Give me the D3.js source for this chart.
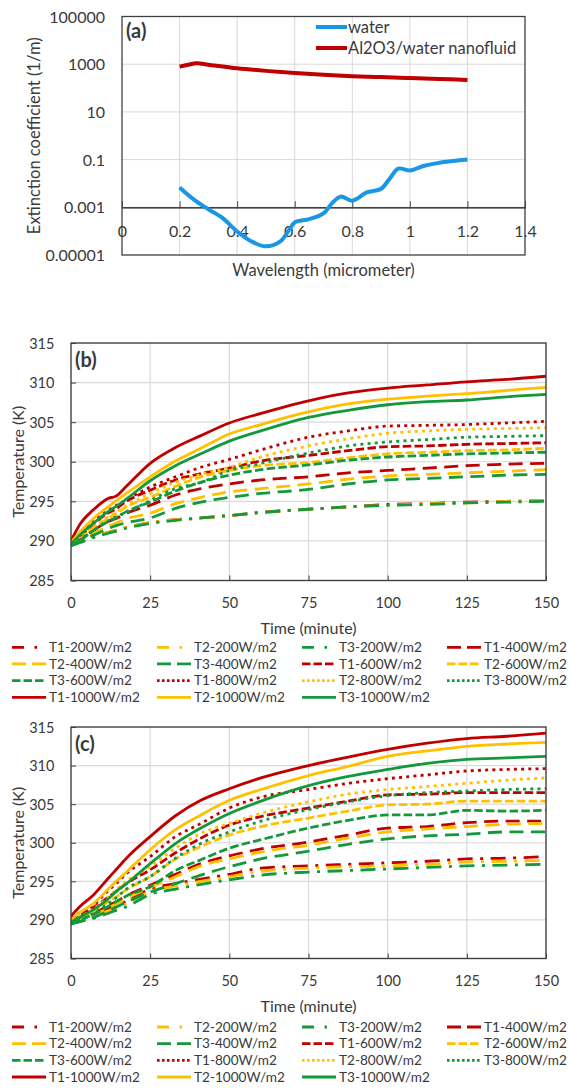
<!DOCTYPE html>
<html><head><meta charset="utf-8">
<script src="https://cdn.jsdelivr.net/npm/d3@7"></script>
<style>
body{margin:0;background:#fff}
svg{display:block}
text{font-family:Lato,"Open Sans",sans-serif;fill:#3a3a3a}
</style>
</head><body>
<svg id="chart" width="569" height="1090"></svg>
<script>
// ---------- Panel (a) data ----------
const wlTicks = [0, 0.2, 0.4, 0.6, 0.8, 1.0, 1.2, 1.4];
const wlTickLabels = ["0", "0.2", "0.4", "0.6", "0.8", "1", "1.2", "1.4"];
const extTicks = [1e-5, 1e-3, 1e-1, 1e1, 1e3, 1e5];
const extTickLabels = ["0.00001", "0.001", "0.1", "10", "1000", "100000"];
const waterWl = [0.2,0.25,0.3,0.35,0.4,0.45,0.5,0.55,0.58,0.6,0.65,0.7,0.73,0.76,0.8,0.85,0.9,0.93,0.96,1.0,1.05,1.1,1.15,1.2];
const waterExt = [6.8e-3,2.1e-3,8.3e-4,3.5e-4,9.7e-5,3.7e-5,2.3e-5,3.7e-5,1.1e-4,2.3e-4,3.2e-4,5.6e-4,1.5e-3,2.8e-3,1.9e-3,4.2e-3,6.0e-3,0.016,0.042,0.035,0.055,0.073,0.087,0.10];
const nanoWl = [0.2,0.23,0.26,0.3,0.4,0.5,0.6,0.7,0.8,0.9,1.0,1.1,1.2];
const nanoExt = [794,955,1096,955,676,525,427,363,316,288,263,240,219];
const seriesA = ["water", "Al2O3/water nanofluid"];

// ---------- Panels (b),(c) data ----------
const timeTicks = [0, 25, 50, 75, 100, 125, 150];
const tempTicks = [285, 290, 295, 300, 305, 310, 315];
const times = [0,3,7,12,14,17.5,25,33,41,50,60,75,87.5,100,112.5,125,137.5,150];
const seriesNames = ["T1-200W/m2","T2-200W/m2","T3-200W/m2","T1-400W/m2","T2-400W/m2","T3-400W/m2",
  "T1-600W/m2","T2-600W/m2","T3-600W/m2","T1-800W/m2","T2-800W/m2","T3-800W/m2",
  "T1-1000W/m2","T2-1000W/m2","T3-1000W/m2"];

const bT1_200 = [289.5,289.9,290.5,291.1,291.3,291.7,292.3,292.7,292.9,293.2,293.6,294.0,294.3,294.6,294.7,294.9,295.0,295.1];
const bT2_200 = [289.5,289.9,290.5,291.1,291.3,291.7,292.3,292.7,292.9,293.2,293.6,294.0,294.3,294.5,294.7,294.8,295.0,295.1];
const bT3_200 = [289.4,289.8,290.4,291.0,291.2,291.6,292.2,292.6,292.9,293.2,293.6,294.0,294.3,294.5,294.6,294.8,294.9,295.0];
const bT1_400 = [289.5,290.2,291.3,292.5,292.8,293.5,294.5,295.8,296.6,297.2,297.7,298.1,298.6,298.9,299.2,299.5,299.7,299.8];
const bT2_400 = [289.5,290.0,290.9,291.9,292.2,292.8,293.5,294.7,295.5,296.2,296.6,297.2,297.8,298.2,298.4,298.6,298.8,299.0];
const bT3_400 = [289.4,289.9,290.7,291.6,291.9,292.3,292.9,294.1,294.9,295.5,296.0,296.5,297.2,297.7,297.9,298.1,298.3,298.4];
const bT1_600 = [289.6,290.6,292.1,293.6,294.0,295.0,296.4,297.7,298.5,299.2,300.1,300.8,301.4,301.9,302.0,302.2,302.3,302.4];
const bT2_600 = [289.5,290.3,291.6,292.9,293.4,294.3,295.5,296.9,298.1,298.9,299.5,299.9,300.5,301.0,301.2,301.4,301.5,301.7];
const bT3_600 = [289.4,290.1,291.3,292.5,292.9,293.7,294.9,296.3,297.4,298.3,299.0,299.6,300.2,300.6,300.8,301.0,301.1,301.2];
const bT1_800 = [289.8,291.0,292.5,293.9,294.4,295.2,296.8,298.1,299.3,300.3,301.5,303.1,303.9,304.5,304.6,304.7,304.9,305.1];
const bT2_800 = [289.6,290.6,291.8,293.1,293.6,294.4,296.0,297.4,298.4,299.3,300.6,302.0,302.9,303.6,303.9,304.1,304.2,304.3];
const bT3_800 = [289.5,290.3,291.3,292.6,293.0,293.6,295.1,296.6,297.4,298.9,299.8,301.1,302.0,302.5,302.8,303.1,303.2,303.3];
const bT1_1000 = [290.0,292.2,293.9,295.4,295.6,296.9,299.8,301.8,303.3,304.9,306.1,307.7,308.7,309.3,309.7,310.1,310.4,310.8];
const bT2_1000 = [289.8,291.2,292.8,294.4,295.0,296.0,298.1,300.1,301.7,303.5,304.7,306.3,307.3,307.9,308.3,308.6,309.0,309.4];
const bT3_1000 = [289.6,290.8,292.2,293.8,294.3,295.3,297.6,299.5,301.0,302.6,303.9,305.6,306.5,307.2,307.6,307.8,308.2,308.5];

const cT1_200 = [289.6,290.0,290.6,291.5,291.8,292.4,294.0,294.7,295.3,295.9,296.7,297.0,297.2,297.4,297.6,297.9,298.0,298.2];
const cT2_200 = [289.6,289.9,290.4,291.2,291.5,292.1,293.7,294.4,295.0,295.6,296.3,296.7,296.9,297.0,297.2,297.5,297.6,297.7];
const cT3_200 = [289.5,289.8,290.2,290.9,291.2,291.7,293.3,294.0,294.6,295.2,295.8,296.2,296.4,296.6,296.8,297.0,297.1,297.2];
const cT1_400 = [289.6,290.1,290.8,291.9,292.3,293.1,294.5,295.9,297.3,298.3,299.2,300.1,301.0,301.9,302.1,302.6,302.8,302.8];
const cT2_400 = [289.6,290.0,290.6,291.6,292.0,292.8,294.2,295.6,297.0,297.9,298.8,299.7,300.6,301.4,301.8,302.1,302.4,302.5];
const cT3_400 = [289.5,289.8,290.3,291.2,291.6,292.3,293.6,294.7,295.8,296.9,297.9,298.9,299.8,300.5,300.9,301.1,301.4,301.4];
const cT1_600 = [289.9,290.6,291.6,293.0,293.6,294.7,296.5,298.7,300.6,302.3,303.4,304.5,305.4,306.2,306.3,306.5,306.5,306.5];
const cT2_600 = [289.7,290.2,291.1,292.4,292.9,293.9,295.6,297.9,299.5,301.0,302.1,303.2,304.1,304.9,305.0,305.4,305.4,305.4];
const cT3_600 = [289.5,290.0,290.7,291.8,292.3,293.1,294.3,296.4,297.8,299.3,300.4,301.9,302.9,303.6,303.6,304.2,304.1,304.2];
const cT1_800 = [290.2,291.0,291.9,293.9,294.6,296.0,298.2,300.8,302.5,304.5,305.9,306.9,307.7,308.3,308.8,309.3,309.5,309.6];
const cT2_800 = [289.8,290.4,291.4,293.0,293.8,295.0,296.9,299.3,301.2,302.5,303.8,305.3,306.3,306.9,307.3,307.7,308.1,308.4];
const cT3_800 = [289.5,290.0,290.8,292.2,292.8,294.0,295.6,298.0,299.9,301.4,302.8,304.3,305.3,306.1,306.5,306.7,306.9,307.0];
const cT1_1000 = [290.5,291.8,293.2,295.5,296.4,298.0,300.8,303.5,305.5,307.0,308.4,310.0,311.1,312.1,312.9,313.5,313.8,314.2];
const cT2_1000 = [290.0,291.0,292.1,294.1,294.9,296.2,299.1,301.7,303.6,305.5,306.9,308.7,309.9,311.2,311.9,312.5,312.8,313.0];
const cT3_1000 = [289.7,290.4,291.3,292.8,293.6,294.7,297.3,299.9,301.9,303.8,305.4,307.4,308.6,309.5,310.3,310.8,311.0,311.2];

const panelBValues = [bT1_200,bT2_200,bT3_200,bT1_400,bT2_400,bT3_400,bT1_600,bT2_600,bT3_600,bT1_800,bT2_800,bT3_800,bT1_1000,bT2_1000,bT3_1000];
const panelCValues = [cT1_200,cT2_200,cT3_200,cT1_400,cT2_400,cT3_400,cT1_600,cT2_600,cT3_600,cT1_800,cT2_800,cT3_800,cT1_1000,cT2_1000,cT3_1000];

// ---------- styles ----------
const sensorColor = {T1: "#c00000", T2: "#ffc000", T3: "#13993b"};
const fluxDash = {"200": "15,7.5,3,7.5", "400": "14,7.5", "600": "8.5,3.3", "800": "3,4.2", "1000": null};
const legendDash = {"200": "12,10.5,2.5,20", "400": "14,6", "600": "8.5,3", "800": "2.6,2.4", "1000": null};
const waterColor = "#1a96e6", nanoColor = "#c00000";
const gridColor = "#d9d9d9", frameColor = "#404040";

const svg = d3.select("#chart");

// ================= Panel (a) =================
{
  const L = 122, R = 525, T = 16.5, B = 255;
  const x = d3.scaleLinear().domain([0, 1.4]).range([L, R]);
  const y = d3.scaleLog().domain([1e-5, 1e5]).range([B, T]);
  const g = svg.append("g");
  g.selectAll(".vg").data(wlTicks.slice(1, -1)).join("line")
    .attr("x1", d => x(d)).attr("x2", d => x(d)).attr("y1", T).attr("y2", B)
    .attr("stroke", gridColor).attr("stroke-width", 1);
  g.selectAll(".hg").data(extTicks.slice(1, -1)).join("line")
    .attr("x1", L).attr("x2", R).attr("y1", d => y(d)).attr("y2", d => y(d))
    .attr("stroke", gridColor).attr("stroke-width", 1);
  g.append("rect").attr("x", L).attr("y", T).attr("width", R - L).attr("height", B - T)
    .attr("fill", "none").attr("stroke", frameColor).attr("stroke-width", 1.3);
  const xa = g.append("g").attr("transform", `translate(0,${y(1e-3)})`)
    .call(d3.axisBottom(x).tickValues(wlTicks).tickFormat((d, i) => wlTickLabels[i]).tickSizeInner(-6).tickSizeOuter(0));
  xa.select(".domain").attr("stroke", "#111").attr("stroke-width", 1.2);
  xa.selectAll(".tick line").attr("stroke", "#444");
  xa.selectAll("text").attr("y", 24).attr("dy", "0.35em").style("font-size", "16px").attr("fill", "#3a3a3a");
  const ya = g.append("g").attr("transform", `translate(${L},0)`)
    .call(d3.axisLeft(y).tickValues(extTicks).tickFormat((d, i) => extTickLabels[i]).tickSize(0).tickPadding(17));
  ya.select(".domain").remove();
  ya.selectAll("text").style("font-size", "16px").attr("dy", "0.35em").attr("fill", "#3a3a3a");
  const lineA = (xs, ys) => d3.line().x((d, i) => x(xs[i])).y((d, i) => y(ys[i])).curve(d3.curveCatmullRom.alpha(0.5))(xs);
  g.append("path").attr("d", lineA(nanoWl, nanoExt)).attr("fill", "none").attr("stroke", nanoColor).attr("stroke-width", 4);
  g.append("path").attr("d", lineA(waterWl, waterExt)).attr("fill", "none").attr("stroke", waterColor).attr("stroke-width", 4);
  g.append("text").attr("x", (L + R) / 2).attr("y", 270.7).attr("dy", "0.35em").attr("text-anchor", "middle")
    .style("font-size", "16.5px").text("Wavelength (micrometer)");
  g.append("text").attr("transform", `translate(34,${(T + B) / 2}) rotate(-90)`).attr("dy", "0.35em")
    .attr("text-anchor", "middle").style("font-size", "16.5px").text("Extinction coefficient (1/m)");
  g.append("text").attr("x", 126).attr("y", 31).attr("dy", "0.35em").style("font-size", "20px")
    .style("font-weight", "bold").attr("fill", "#111").text("(a)");
  const leg = [[waterColor, 27], [nanoColor, 48]];
  seriesA.forEach((name, i) => {
    g.append("line").attr("x1", 316).attr("x2", 347).attr("y1", leg[i][1]).attr("y2", leg[i][1])
      .attr("stroke", leg[i][0]).attr("stroke-width", 4);
    g.append("text").attr("x", 348).attr("y", leg[i][1]).attr("dy", "0.35em").style("font-size", "16.5px").text(name);
  });
}

// ================= Panels (b), (c) =================
function tempPanel(values, label, T, B, legendTop) {
  const L = 71, R = 546;
  const x = d3.scaleLinear().domain([0, 150]).range([L, R]);
  const y = d3.scaleLinear().domain([285, 315]).range([B, T]);
  const g = svg.append("g");
  g.selectAll(".vg").data(timeTicks.slice(1, -1)).join("line")
    .attr("x1", d => x(d)).attr("x2", d => x(d)).attr("y1", T).attr("y2", B)
    .attr("stroke", gridColor).attr("stroke-width", 1.2);
  g.selectAll(".hg").data(tempTicks.slice(1, -1)).join("line")
    .attr("x1", L).attr("x2", R).attr("y1", d => y(d)).attr("y2", d => y(d))
    .attr("stroke", gridColor).attr("stroke-width", 1.2);
  const xa = g.append("g").attr("transform", `translate(0,${B})`)
    .call(d3.axisBottom(x).tickValues(timeTicks).tickSizeInner(-5).tickSizeOuter(0));
  xa.select(".domain").remove();
  xa.selectAll(".tick line").attr("stroke", frameColor);
  xa.selectAll("text").attr("y", 22.2).attr("dy", "0.35em").style("font-size", "14.5px").attr("fill", "#3a3a3a");
  const ya = g.append("g").attr("transform", `translate(${L},0)`)
    .call(d3.axisLeft(y).tickValues(tempTicks).tickSizeInner(-5).tickSizeOuter(0).tickPadding(16.6));
  ya.select(".domain").remove();
  ya.selectAll(".tick line").attr("stroke", frameColor);
  ya.selectAll("text").attr("x", -16.6).attr("dy", "0.35em").style("font-size", "14.5px").attr("fill", "#3a3a3a");

  const clipId = "clip" + label;
  g.append("clipPath").attr("id", clipId).append("rect").attr("x", L).attr("y", T).attr("width", R - L).attr("height", B - T);
  const line = d3.line().x((d, i) => x(times[i])).y(d => y(d)).curve(d3.curveMonotoneX);
  const pg = g.append("g").attr("clip-path", `url(#${clipId})`);
  seriesNames.forEach((name, k) => {
    const sensor = name.slice(0, 2);
    const flux = name.slice(3).replace("W/m2", "");
    pg.append("path").attr("d", line(values[k])).attr("fill", "none")
      .attr("stroke", sensorColor[sensor]).attr("stroke-width", 2.8)
      .attr("stroke-dasharray", fluxDash[flux]);
  });
  g.append("rect").attr("x", L).attr("y", T).attr("width", R - L).attr("height", B - T)
    .attr("fill", "none").attr("stroke", frameColor).attr("stroke-width", 1.4);

  g.append("text").attr("x", 75).attr("y", T + 17).attr("dy", "0.35em").style("font-size", "20px")
    .style("font-weight", "bold").attr("fill", "#111").text("(" + label + ")");
  g.append("text").attr("x", (L + R) / 2).attr("y", B + 47.5).attr("dy", "0.35em").attr("text-anchor", "middle")
    .style("font-size", "16px").text("Time (minute)");
  g.append("text").attr("transform", `translate(18,${(T + B) / 2}) rotate(-90)`).attr("dy", "0.35em")
    .attr("text-anchor", "middle").style("font-size", "16px").text("Temperature (K)");

  seriesNames.forEach((name, k) => {
    const col = k % 4, row = Math.floor(k / 4);
    const lx = 12 + col * 145, ly = legendTop + row * 16.67;
    const sensor = name.slice(0, 2);
    const flux = name.slice(3).replace("W/m2", "");
    g.append("line").attr("x1", lx).attr("x2", lx + 34).attr("y1", ly).attr("y2", ly)
      .attr("stroke", sensorColor[sensor]).attr("stroke-width", 2.8)
      .attr("stroke-dasharray", legendDash[flux]);
    g.append("text").attr("x", lx + 37).attr("y", ly).attr("dy", "0.35em").style("font-size", "13.6px").text(name);
  });
}

tempPanel(panelBValues, "b", 343, 580.5, 647.3);
tempPanel(panelCValues, "c", 727, 958.5, 1027);
</script>
</body></html>
